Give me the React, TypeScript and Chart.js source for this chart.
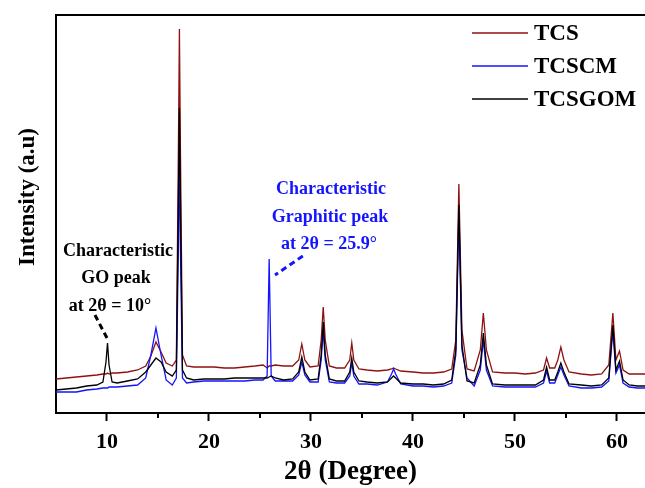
import React, { useEffect, useRef } from "react";
import { Chart, registerables } from "chart.js";

Chart.register(...registerables);

// 2θ positions (degrees)
const twoTheta = [
  5, 6, 7, 8, 9, 9.6, 9.9, 10.05, 10.2, 10.5, 11, 12, 13, 13.8, 14.3, 14.8, 15.3, 15.8, 16.4, 16.8,
  17.0, 17.1, 17.2, 17.4, 17.8, 18.5, 19.5, 20.5, 21.5, 22.5, 23.5, 24.5, 25.3, 25.7, 25.9, 26.1,
  26.5, 27.3, 28.2, 28.8, 29.1, 29.4, 29.9, 30.7, 31.0, 31.2, 31.4, 31.8, 32.5, 33.3, 33.8, 34.0,
  34.2, 34.7, 35.5, 36.5, 37.5, 37.9, 38.1, 38.3, 38.8, 40, 41, 42, 43, 43.8, 44.2, 44.5, 44.8,
  45.3, 46.0, 46.6, 46.9, 47.2, 47.8, 49, 50, 51, 52, 52.8, 53.1, 53.4, 53.9, 54.2, 54.5, 54.8,
  55.3, 56.5, 57.5, 58.5, 59.2, 59.6, 59.9, 60.25, 60.6, 61.2, 62, 63,
];

// Intensities (a.u.)
const tcs = [
  34, 35, 36, 37, 38, 39, 39, 40, 39, 40, 40, 41, 43, 47, 57, 71, 61, 50, 47, 53,
  263, 384, 263, 58, 47, 46, 46, 46, 45, 45, 46, 47, 48, 45, 47, 47,
  48, 47, 47, 53, 69, 53, 46, 47, 73, 106, 73, 47, 45, 45, 53, 70,
  53, 44, 43, 42, 43, 44, 45, 44, 42, 41, 40, 40, 41, 44, 73, 229, 83,
  44, 42, 63, 100, 63, 41, 40, 40, 39, 40, 43, 55, 45, 45, 53, 66, 53,
  41, 39, 38, 39, 48, 100, 53, 62, 43, 39, 39, 39,
];

const tcscm = [
  21, 21, 21, 23, 24, 25, 25, 25, 26, 26, 26, 27, 28, 35, 58, 85, 58, 33, 28, 35,
  163, 258, 163, 35, 30, 31, 32, 32, 32, 32, 32, 33, 33, 37, 154, 37,
  32, 32, 32, 38, 51, 38, 31, 31, 53, 83, 53, 31, 30, 30, 37, 50,
  37, 29, 29, 28, 31, 39, 44, 39, 29, 27, 27, 26, 27, 30, 58, 198, 63,
  35, 27, 43, 73, 43, 27, 26, 26, 26, 26, 30, 42, 30, 30, 38, 46, 38,
  27, 25, 25, 26, 32, 83, 40, 48, 30, 26, 25, 25,
];

const tcsgom = [
  23, 24, 25, 27, 28, 31, 51, 70, 48, 31, 30, 32, 34, 41, 48, 55, 51, 41, 37, 43,
  213, 305, 213, 43, 35, 33, 34, 34, 34, 35, 35, 35, 35, 35, 36, 37,
  35, 33, 34, 41, 56, 41, 33, 34, 58, 91, 58, 34, 32, 32, 41, 55,
  41, 32, 31, 30, 31, 35, 37, 35, 30, 29, 29, 28, 29, 33, 63, 208, 68,
  32, 30, 48, 80, 48, 29, 28, 28, 28, 28, 33, 46, 33, 33, 41, 50, 41,
  29, 28, 27, 28, 35, 88, 43, 52, 33, 28, 27, 27,
];

const seriesNames = ["TCS", "TCSCM", "TCSGOM"];
const seriesColors = ["#8f1212", "#1414ff", "#000000"];

const xTickLabels = [10, 20, 30, 40, 50, 60];
const minorTicks = [15, 25, 35, 45, 55];

// annotation anchors in data units
const goText = ["Characteristic", "GO peak", "at 2θ = 10°"];
const goTextX = [11.08, 10.88, 10.29];
const goTextY = [162, 135, 107];
const goLine = [8.82, 98, 10.1, 73];

const grText = ["Characteristic", "Graphitic peak", "at 2θ = 25.9°"];
const grTextX = [31.96, 31.86, 31.76];
const grTextY = [224, 196, 169];
const grLine = [29.2, 157, 26.47, 138];

const SERIF = '"Liberation Serif", "Times New Roman", serif';

const decorPlugin = {
  id: "decor",
  afterDraw(chart: any) {
    const { ctx, chartArea, scales } = chart;
    const x = scales.x;
    const y = scales.y;
    ctx.save();
    // top frame line
    ctx.strokeStyle = "#000";
    ctx.lineWidth = 2;
    ctx.beginPath();
    ctx.moveTo(chartArea.left - 1, chartArea.top);
    ctx.lineTo(chartArea.right + 2, chartArea.top);
    ctx.stroke();
    // minor ticks
    ctx.lineWidth = 2;
    minorTicks.forEach((v) => {
      const px = Math.round(x.getPixelForValue(v));
      ctx.beginPath();
      ctx.moveTo(px, chartArea.bottom);
      ctx.lineTo(px, chartArea.bottom + 5);
      ctx.stroke();
    });
    // legend
    const lx = chartArea.left + 416;
    const ly0 = chartArea.top + 18;
    chart.data.datasets.forEach((ds: any, i: number) => {
      const yy = ly0 + i * 33;
      ctx.strokeStyle = ds.borderColor;
      ctx.lineWidth = 1.5;
      ctx.beginPath();
      ctx.moveTo(lx, yy);
      ctx.lineTo(lx + 56, yy);
      ctx.stroke();
      ctx.fillStyle = "#000";
      ctx.font = `bold 23px ${SERIF}`;
      ctx.textAlign = "left";
      ctx.textBaseline = "middle";
      ctx.fillText(ds.label, lx + 62, yy + 1);
    });
    // annotations
    const drawAnn = (lines: string[], xs: number[], ys: number[], ln: number[], color: string) => {
      ctx.fillStyle = color;
      ctx.font = `bold 18px ${SERIF}`;
      ctx.textAlign = "center";
      ctx.textBaseline = "middle";
      lines.forEach((t, i) => {
        ctx.fillText(t, x.getPixelForValue(xs[i]), y.getPixelForValue(ys[i]));
      });
      ctx.strokeStyle = color;
      ctx.lineWidth = 3;
      ctx.setLineDash([6, 4]);
      ctx.beginPath();
      ctx.moveTo(x.getPixelForValue(ln[0]), y.getPixelForValue(ln[1]));
      ctx.lineTo(x.getPixelForValue(ln[2]), y.getPixelForValue(ln[3]));
      ctx.stroke();
      ctx.setLineDash([]);
    };
    drawAnn(goText, goTextX, goTextY, goLine, "#000");
    drawAnn(grText, grTextX, grTextY, grLine, "#1414ff");
    // y axis title
    ctx.fillStyle = "#000";
    ctx.font = `bold 23px ${SERIF}`;
    ctx.textAlign = "center";
    ctx.textBaseline = "middle";
    ctx.translate(28, chartArea.top + 182);
    ctx.rotate(-Math.PI / 2);
    ctx.fillText("Intensity (a.u)", 0, 0);
    ctx.restore();
  },
};

export default function App() {
  const ref = useRef<HTMLCanvasElement | null>(null);
  useEffect(() => {
    if (!ref.current) return;
    const mk = (vals: number[]) => twoTheta.map((t, i) => ({ x: t, y: vals[i] }));
    const chart = new Chart(ref.current, {
      type: "line",
      data: {
        datasets: [
          { label: seriesNames[0], data: mk(tcs), borderColor: seriesColors[0], borderWidth: 1.3, pointRadius: 0, order: 2 },
          { label: seriesNames[1], data: mk(tcscm), borderColor: seriesColors[1], borderWidth: 1.3, pointRadius: 0, order: 1 },
          { label: seriesNames[2], data: mk(tcsgom), borderColor: seriesColors[2], borderWidth: 1.3, pointRadius: 0, order: 0 },
        ],
      },
      options: {
        responsive: false,
        animation: false,
        layout: { padding: { top: 15, left: 0, right: 0, bottom: 0 } },
        plugins: { legend: { display: false }, tooltip: { enabled: false } },
        scales: {
          x: {
            type: "linear",
            min: 5,
            max: 62.75,
            afterFit: (s: any) => {
              s.height = 75;
            },
            border: { display: true, color: "#000", width: 2 },
            grid: {
              drawOnChartArea: false,
              drawTicks: true,
              tickLength: 8,
              tickWidth: 2,
              tickColor: (c: any) => (c.tick && xTickLabels.includes(c.tick.value) ? "#000" : "rgba(0,0,0,0)"),
            },
            ticks: {
              stepSize: 5,
              includeBounds: false,
              autoSkip: false,
              maxRotation: 0,
              padding: 8,
              color: "#000",
              font: { family: SERIF, size: 22, weight: "bold" },
              callback: (v: any) => (xTickLabels.includes(Number(v)) ? String(v) : ""),
            },
            title: {
              display: true,
              text: "2θ (Degree)",
              color: "#000",
              font: { family: SERIF, size: 27, weight: "bold" },
              padding: { top: 0, bottom: 0 },
            },
          },
          y: {
            min: 0,
            max: 398,
            afterFit: (s: any) => {
              s.width = 56;
            },
            border: { display: true, color: "#000", width: 2 },
            grid: { drawOnChartArea: false, drawTicks: false },
            ticks: { display: false },
          },
        },
      },
      plugins: [decorPlugin],
    });
    return () => chart.destroy();
  }, []);
  return (
    <div style={{ position: "fixed", left: 0, top: 0, width: 645, height: 488, background: "#fff" }}>
      <canvas ref={ref} width={645} height={488} />
    </div>
  );
}
